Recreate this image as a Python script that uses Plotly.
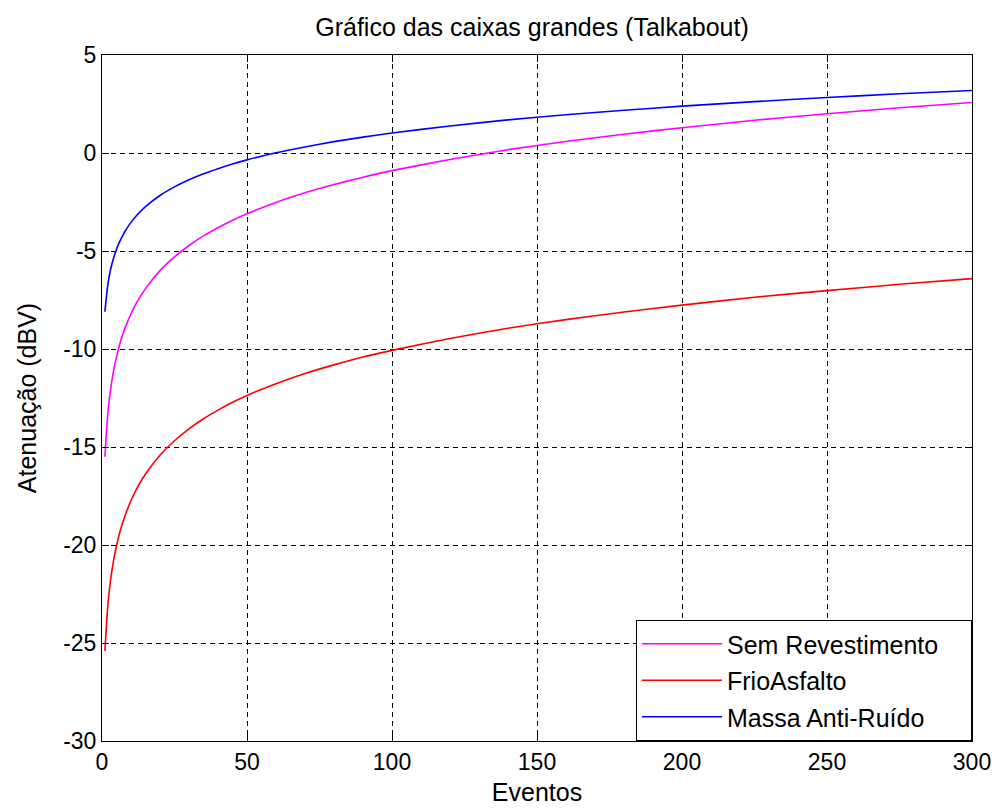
import plotly.graph_objects as go

title = "Gráfico das caixas grandes (Talkabout)"
x_label = "Eventos"
y_label = "Atenuação (dBV)"

eventos = [1, 2, 3, 4, 5, 6, 7, 8, 10, 12, 15, 20, 25, 30, 35, 40, 45, 50, 60, 70, 80,
           90, 100, 120, 140, 160, 180, 200, 225, 250, 275, 300]

sem_revestimento = [-15.5, -13.3, -12.02, -11.11, -10.4, -9.82, -9.33, -8.91, -8.2, -7.62,
                    -6.92, -6.0, -5.3, -4.72, -4.23, -3.81, -3.43, -3.1, -2.52, -2.03, -1.61,
                    -1.24, -0.9, -0.33, 0.17, 0.59, 0.96, 1.29, 1.67, 2.0, 2.31, 2.58]

frio_asfalto = [-25.4, -23.09, -21.74, -20.78, -20.04, -19.43, -18.92, -18.48, -17.73, -17.12,
                -16.38, -15.42, -14.68, -14.07, -13.56, -13.12, -12.72, -12.37, -11.77, -11.25, -10.81,
                -10.41, -10.07, -9.46, -8.94, -8.5, -8.11, -7.76, -7.36, -7.02, -6.7, -6.41]

massa_anti_ruido = [-8.1, -6.73, -5.92, -5.36, -4.91, -4.55, -4.25, -3.98, -3.54, -3.18,
                    -2.74, -2.17, -1.73, -1.37, -1.06, -0.8, -0.56, -0.35, 0.01, 0.31, 0.58,
                    0.81, 1.02, 1.38, 1.69, 1.95, 2.18, 2.39, 2.62, 2.83, 3.02, 3.19]

series = [
    ("Sem Revestimento\u00a0\u00a0\u00a0\u00a0", sem_revestimento, "#FF00FF"),
    ("FrioAsfalto", frio_asfalto, "#FF0000"),
    ("Massa Anti-Ruído", massa_anti_ruido, "#0000FF"),
]

x_ticks = [0, 50, 100, 150, 200, 250, 300]
x_ticktext = ["0", "50", "100", "150", "200", "250", "300"]
y_ticks = [5, 0, -5, -10, -15, -20, -25, -30]
y_ticktext = ["5", "0", "-5", "-10", "-15", "-20", "-25", "-30"]

font_family = "Liberation Sans, Arial, sans-serif"

fig = go.Figure()
for i, (name, vals, color) in enumerate(series):
    fig.add_trace(go.Scatter(
        x=eventos, y=vals, mode="lines", name=name,
        line=dict(color=color, width=1.6, shape="spline", smoothing=0.5),
        legendgroup=f"g{i}",
    ))

axis_common = dict(
    showline=True, linecolor="black", linewidth=1, mirror="allticks",
    ticks="inside", ticklen=7, tickcolor="black", tickwidth=1,
    showgrid=True, gridcolor="black", griddash="5px,4px", gridwidth=1,
    zeroline=False,
    tickfont=dict(family=font_family, size=23, color="black"),
)

fig.update_layout(
    width=1000, height=809,
    paper_bgcolor="white", plot_bgcolor="white",
    margin=dict(l=94, r=36, t=47, b=76),
    font=dict(family=font_family, color="black"),
    title=dict(text=title, x=0.524, xanchor="center", y=0.976, yanchor="middle",
               font=dict(family=font_family, size=25, color="black")),
    xaxis=dict(range=[0, 300], tickvals=x_ticks, ticktext=x_ticktext,
               title=dict(text=x_label, font=dict(family=font_family, size=25), standoff=9),
               **axis_common),
    yaxis=dict(range=[-30, 5], tickvals=y_ticks, ticktext=y_ticktext,
               title=dict(text=y_label, font=dict(family=font_family, size=25), standoff=19),
               **axis_common),
    legend=dict(x=1, y=0, xanchor="right", yanchor="bottom",
                bgcolor="white", bordercolor="black", borderwidth=1,
                font=dict(family=font_family, size=25, color="black"),
                itemwidth=80, traceorder="grouped", tracegroupgap=1),
)

fig.write_html("out.html")
